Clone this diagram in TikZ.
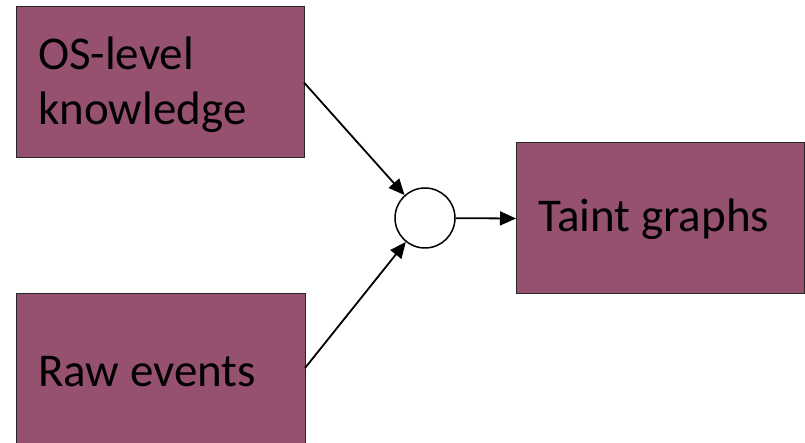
\documentclass[tikz,border=0pt]{standalone}
\usepackage{fontspec}
\setmainfont{Carlito}
\usetikzlibrary{arrows.meta}
\definecolor{boxfill}{RGB}{150,80,112}
\begin{document}
\begin{tikzpicture}[x=1bp,y=-1bp,
  box/.style={draw=black!85, line width=1bp, fill=boxfill, rectangle, inner sep=0pt, outer sep=0pt},
  lbl/.style={anchor=base west, inner sep=0pt, font=\fontsize{47bp}{55bp}\selectfont},
  mergept/.style={draw=black, line width=1.5bp, fill=white, circle, minimum size=60bp, inner sep=0pt},
  arr/.style={line width=1.8bp, -{Triangle[length=16bp,width=14bp]}}]
  \useasboundingbox (0,0) rectangle (805,443);
  \begin{scope}
    \clip (0,0) rectangle (805,443);
    % source and result boxes
    \node[box, minimum width=287bp, minimum height=151bp] (os) at (160.5,82.5) {};
    \node[box, minimum width=288bp, minimum height=160bp] (raw) at (161,374) {};
    \node[box, minimum width=288bp, minimum height=151bp] (taint) at (660,218.5) {};
    % merge point
    \node[mergept] (merge) at (425,218) {};
    % labels
    \node[lbl] (oslbl1) at (38,70) {OS-level};
    \node[lbl] (oslbl2) at (38,125) {knowledge};
    \node[lbl] (rawlbl) at (38,387) {Raw events};
    \node[lbl] (taintlbl) at (538,232) {Taint graphs};
    % connectors
    \draw[arr] (os.east) -- (merge);
    \draw[arr] ([yshift=6bp]raw.east) -- (merge);
    \draw[arr] (merge) -- (taint.west);
  \end{scope}
\end{tikzpicture}
\end{document}
